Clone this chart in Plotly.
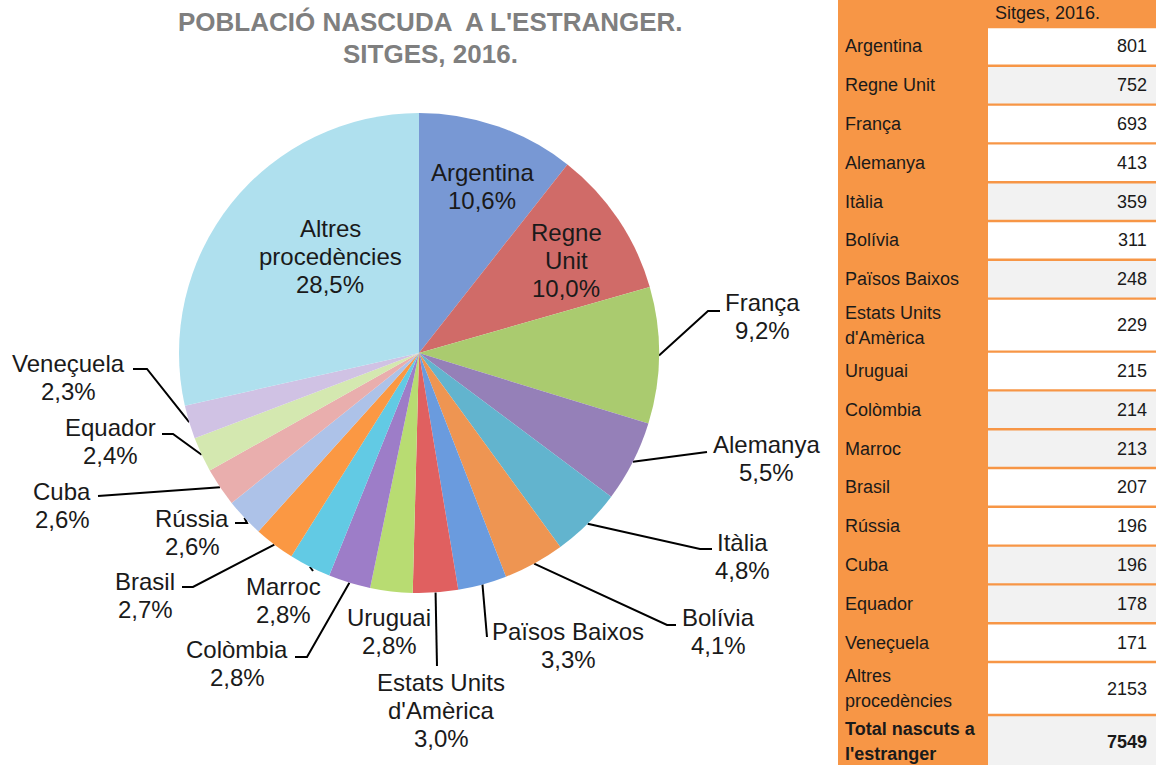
import math
import plotly.graph_objects as go

# ---------------- data ----------------
countries = ["Argentina", "Regne Unit", "França", "Alemanya", "Itàlia", "Bolívia",
             "Països Baixos", "Estats Units d'Amèrica", "Uruguai", "Colòmbia", "Marroc",
             "Brasil", "Rússia", "Cuba", "Equador", "Veneçuela", "Altres procedències"]
residents = [801, 752, 693, 413, 359, 311, 248, 229, 215, 214, 213, 207, 196, 196, 178, 171, 2153]
total_label = "Total nascuts a l'estranger"
total_value = 7549
title_lines = ["POBLACIÓ NASCUDA  A L'ESTRANGER.", "SITGES, 2016."]
table_header = "Sitges, 2016."

# ---------------- styles ----------------
W, H = 1156, 765
FONT = "Liberation Sans, Arial, sans-serif"
ORANGE = "#F79646"
TXT = "#1a1a1a"
slice_colors = ["#7898D4", "#D06B68", "#AACB6F", "#9580B8", "#62B4CE", "#EE9552",
                "#6A9BDE", "#E06060", "#B8DC72", "#9D7DC8", "#62CAE4", "#FB9843",
                "#ADC2E8", "#E9AEAD", "#D4E8B0", "#D0C2E4", "#AFE0EE"]
# wrapped display names
pie_names = {"Regne Unit": "Regne<br>Unit",
             "Estats Units d'Amèrica": "Estats Units<br>d'Amèrica",
             "Altres procedències": "Altres<br>procedències"}
table_names = {"Estats Units d'Amèrica": "Estats Units<br>d'Amèrica",
               "Altres procedències": "Altres<br>procedències",
               total_label: "Total nascuts a<br>l'estranger"}
# pie geometry (pixels)
CX, CY, R = 419, 353, 240
LABEL_SIZE, LABEL_LH = 24, 28
# label placement: text centre and leader-line path (pixel layout positions)
label_layout = {
    "Argentina": ((482, 186), []),
    "Regne Unit": ((566, 260), []),
    "França": ((762, 316), [(708, 311), (720, 311)]),
    "Alemanya": ((766, 458), [(707, 452)]),
    "Itàlia": ((742, 556), [(700, 549), (712, 549)]),
    "Bolívia": ((718, 631), [(667, 625), (676, 625)]),
    "Països Baixos": ((568, 645), [(487, 637)]),
    "Estats Units d'Amèrica": ((441, 710), [(437, 666)]),
    "Uruguai": ((389, 631), []),
    "Colòmbia": ((237, 663), [(307, 657), (295, 657)]),
    "Marroc": ((283, 600), [(313, 571)]),
    "Brasil": ((145, 595), [(193, 587), (182, 587)]),
    "Rússia": ((192, 532), [(247, 523), (235, 523)]),
    "Cuba": ((62, 505), [(98, 496)]),
    "Equador": ((110, 441), [(173, 434), (162, 434)]),
    "Veneçuela": ((68, 377), [(147, 369), (133, 369)]),
    "Altres procedències": ((330, 256), []),
}
# table geometry (pixels)
T_LEFT, T_SPLIT, T_RIGHT = 838, 988, 1156
HEADER_H, ROW_H, TALL_H = 27, 38.8, 53
T_SIZE, T_LH = 18, 25
value_fills = ["#FFFFFF", "#F2F2F2", "#FFFFFF", "#FFFFFF", "#F2F2F2", "#FFFFFF", "#F2F2F2",
               "#FFFFFF", "#FFFFFF", "#F2F2F2", "#F2F2F2", "#FFFFFF", "#FFFFFF", "#F2F2F2",
               "#F2F2F2", "#FFFFFF", "#FFFFFF", "#F2F2F2"]

fig = go.Figure()

# pie
fig.add_trace(go.Pie(
    labels=countries, values=residents, sort=False, direction="clockwise", rotation=0,
    marker=dict(colors=slice_colors, line=dict(width=0)),
    textinfo="none", hoverinfo="label+value+percent", showlegend=False,
    domain=dict(x=[(CX - R) / W, (CX + R) / W], y=[(H - CY - R) / H, (H - CY + R) / H]),
))

annotations = []


def add_lines(text, x, yc, size, lh, xanchor="center", color=TXT, bold=False):
    lines = text.split("<br>")
    n = len(lines)
    for i, ln in enumerate(lines):
        annotations.append(dict(
            x=x, y=yc + (i - (n - 1) / 2) * lh, xref="x", yref="y", showarrow=False,
            xanchor=xanchor, yanchor="middle",
            text=f"<b>{ln}</b>" if bold else ln,
            font=dict(family=FONT, size=size, color=color)))


# leader lines + labels
tot = sum(residents)
lx, ly = [], []
cum = 0
for name, v in zip(countries, residents):
    mid = (cum + v / 2) / tot
    cum += v
    ang = 2 * math.pi * mid
    sx, sy = CX + R * math.sin(ang), CY - R * math.cos(ang)
    (tx, ty), path = label_layout[name]
    if path:
        pts = [(sx, sy)] + path
        lx += [p[0] for p in pts] + [None]
        ly += [p[1] for p in pts] + [None]
    pct = f"{v / tot * 100:.1f}".replace(".", ",") + "%"
    add_lines(f"{pie_names.get(name, name)}<br>{pct}", tx, ty, LABEL_SIZE, LABEL_LH)

fig.add_trace(go.Scatter(x=lx, y=ly, mode="lines", line=dict(color="black", width=2),
                         hoverinfo="skip", showlegend=False))

# title
add_lines("<br>".join(title_lines), 430, 38, 26, 32, color="#7F7F7F", bold=True)

# table
shapes = [dict(type="rect", xref="x", yref="y", x0=T_LEFT, x1=T_RIGHT, y0=0, y1=H,
               fillcolor=ORANGE, line=dict(width=0), layer="below")]
add_lines(table_header, T_SPLIT + 5, 13, T_SIZE, T_LH, xanchor="left")
rows = countries + [total_label]
vals = residents + [total_value]
y = HEADER_H
for i, (name, v) in enumerate(zip(rows, vals)):
    disp = table_names.get(name, name)
    h = TALL_H if "<br>" in disp else ROW_H
    shapes.append(dict(type="rect", xref="x", yref="y", x0=T_SPLIT, x1=T_RIGHT,
                       y0=y + 1.2, y1=y + h - 1.2, fillcolor=value_fills[i],
                       line=dict(width=0), layer="below"))
    is_total = name == total_label
    add_lines(disp, T_LEFT + 5, y + h / 2, T_SIZE, T_LH, xanchor="left", bold=is_total)
    add_lines(str(v), T_RIGHT - 7, y + h / 2, T_SIZE, T_LH, xanchor="right", bold=is_total)
    y += h

fig.update_layout(
    width=W, height=H, margin=dict(l=0, r=0, t=0, b=0),
    paper_bgcolor="white", plot_bgcolor="rgba(0,0,0,0)",
    xaxis=dict(range=[0, W], visible=False, fixedrange=True),
    yaxis=dict(range=[H, 0], visible=False, fixedrange=True),
    annotations=annotations, shapes=shapes, showlegend=False,
)

fig.write_html("out.html", config={"displayModeBar": False},
               post_script="document.body.style.margin='0';")
